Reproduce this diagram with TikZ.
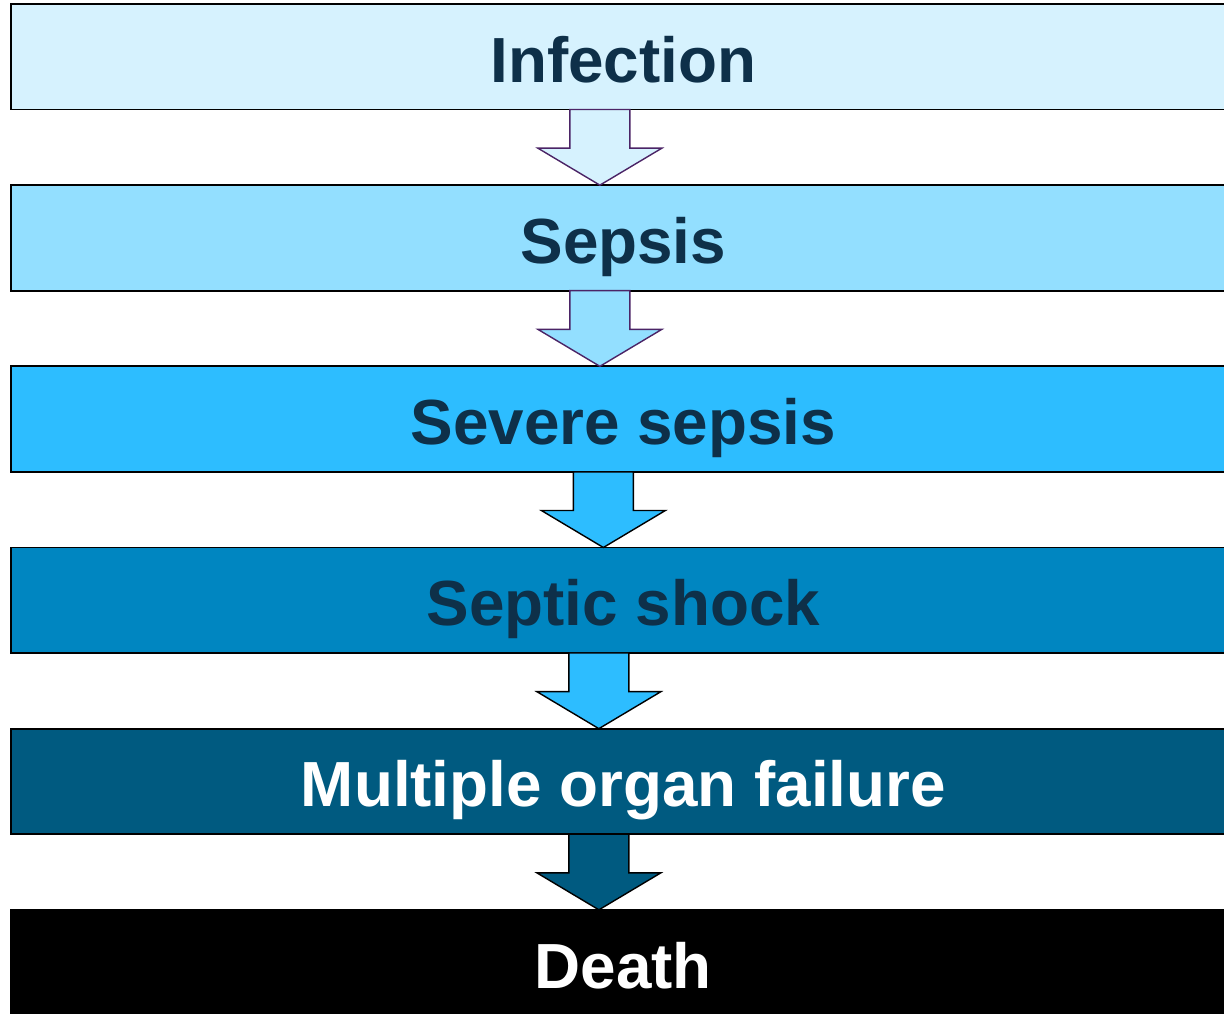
\documentclass[tikz,border=0pt]{standalone}
\usepackage{fontspec}
\setmainfont{Liberation Sans}
\usetikzlibrary{positioning,calc}

\definecolor{infcol}{HTML}{D6F2FE}
\definecolor{sepcol}{HTML}{93DFFF}
\definecolor{sevcol}{HTML}{2DBDFF}
\definecolor{shockcol}{HTML}{0086C1}
\definecolor{organcol}{HTML}{005A80}
\definecolor{textdark}{HTML}{0E3049}
\definecolor{violetline}{HTML}{4B2466}

% block arrow from the bottom of one stage to the top of the next
% #1 extra style, #2 upper node, #3 lower node, #4 x offset from the centre
\newcommand{\stagearrow}[4][]{%
  \draw[stagearrow,#1]
    ($(#2.south)+(#4-30,0)$) -- ($(#2.south)+(#4+30,0)$)
    -- ($(#3.north)+(#4+30,-37)$) -- ($(#3.north)+(#4+62,-37)$)
    -- ($(#3.north)+(#4,0)$)
    -- ($(#3.north)+(#4-62,-37)$) -- ($(#3.north)+(#4-30,-37)$) -- cycle;
}

\tikzset{
  stage/.style={draw=black, line width=1.1pt, rectangle, outer sep=0pt,
    minimum width=24.5cm, minimum height=2.11cm,
    text height=29pt, text depth=0pt,
    font=\bfseries\fontsize{36.3}{40}\selectfont, text=textdark},
  stagearrow/.style={draw=black, line width=0.8pt, line join=miter}
}

\begin{document}
\begin{tikzpicture}[x=0.02cm, y=-0.02cm, node distance=1.514cm]
  \useasboundingbox (0,0) rectangle (1224,1014);
  \clip (0,0) rectangle (1224,1014);

  % the stages
  \node[stage, fill=infcol, anchor=north west] (infection) at (11,4) {Infection};
  \node[stage, fill=sepcol, below=of infection] (sepsis) {Sepsis};
  \node[stage, fill=sevcol, below=of sepsis] (severe) {Severe sepsis};
  \node[stage, fill=shockcol, below=of severe] (shock) {Septic shock};
  \node[stage, fill=organcol, text=white, below=of shock] (organ) {Multiple organ failure};
  \node[stage, fill=black, text=white, below=of organ] (death) {Death};

  % arrows between the stages
  \stagearrow[fill=infcol, draw=violetline]{infection}{sepsis}{-23.5}
  \stagearrow[fill=sepcol, draw=violetline]{sepsis}{severe}{-23.5}
  \stagearrow[fill=sevcol]{severe}{shock}{-20}
  \stagearrow[fill=sevcol]{shock}{organ}{-24.5}
  \stagearrow[fill=organcol]{organ}{death}{-24.5}
\end{tikzpicture}
\end{document}
